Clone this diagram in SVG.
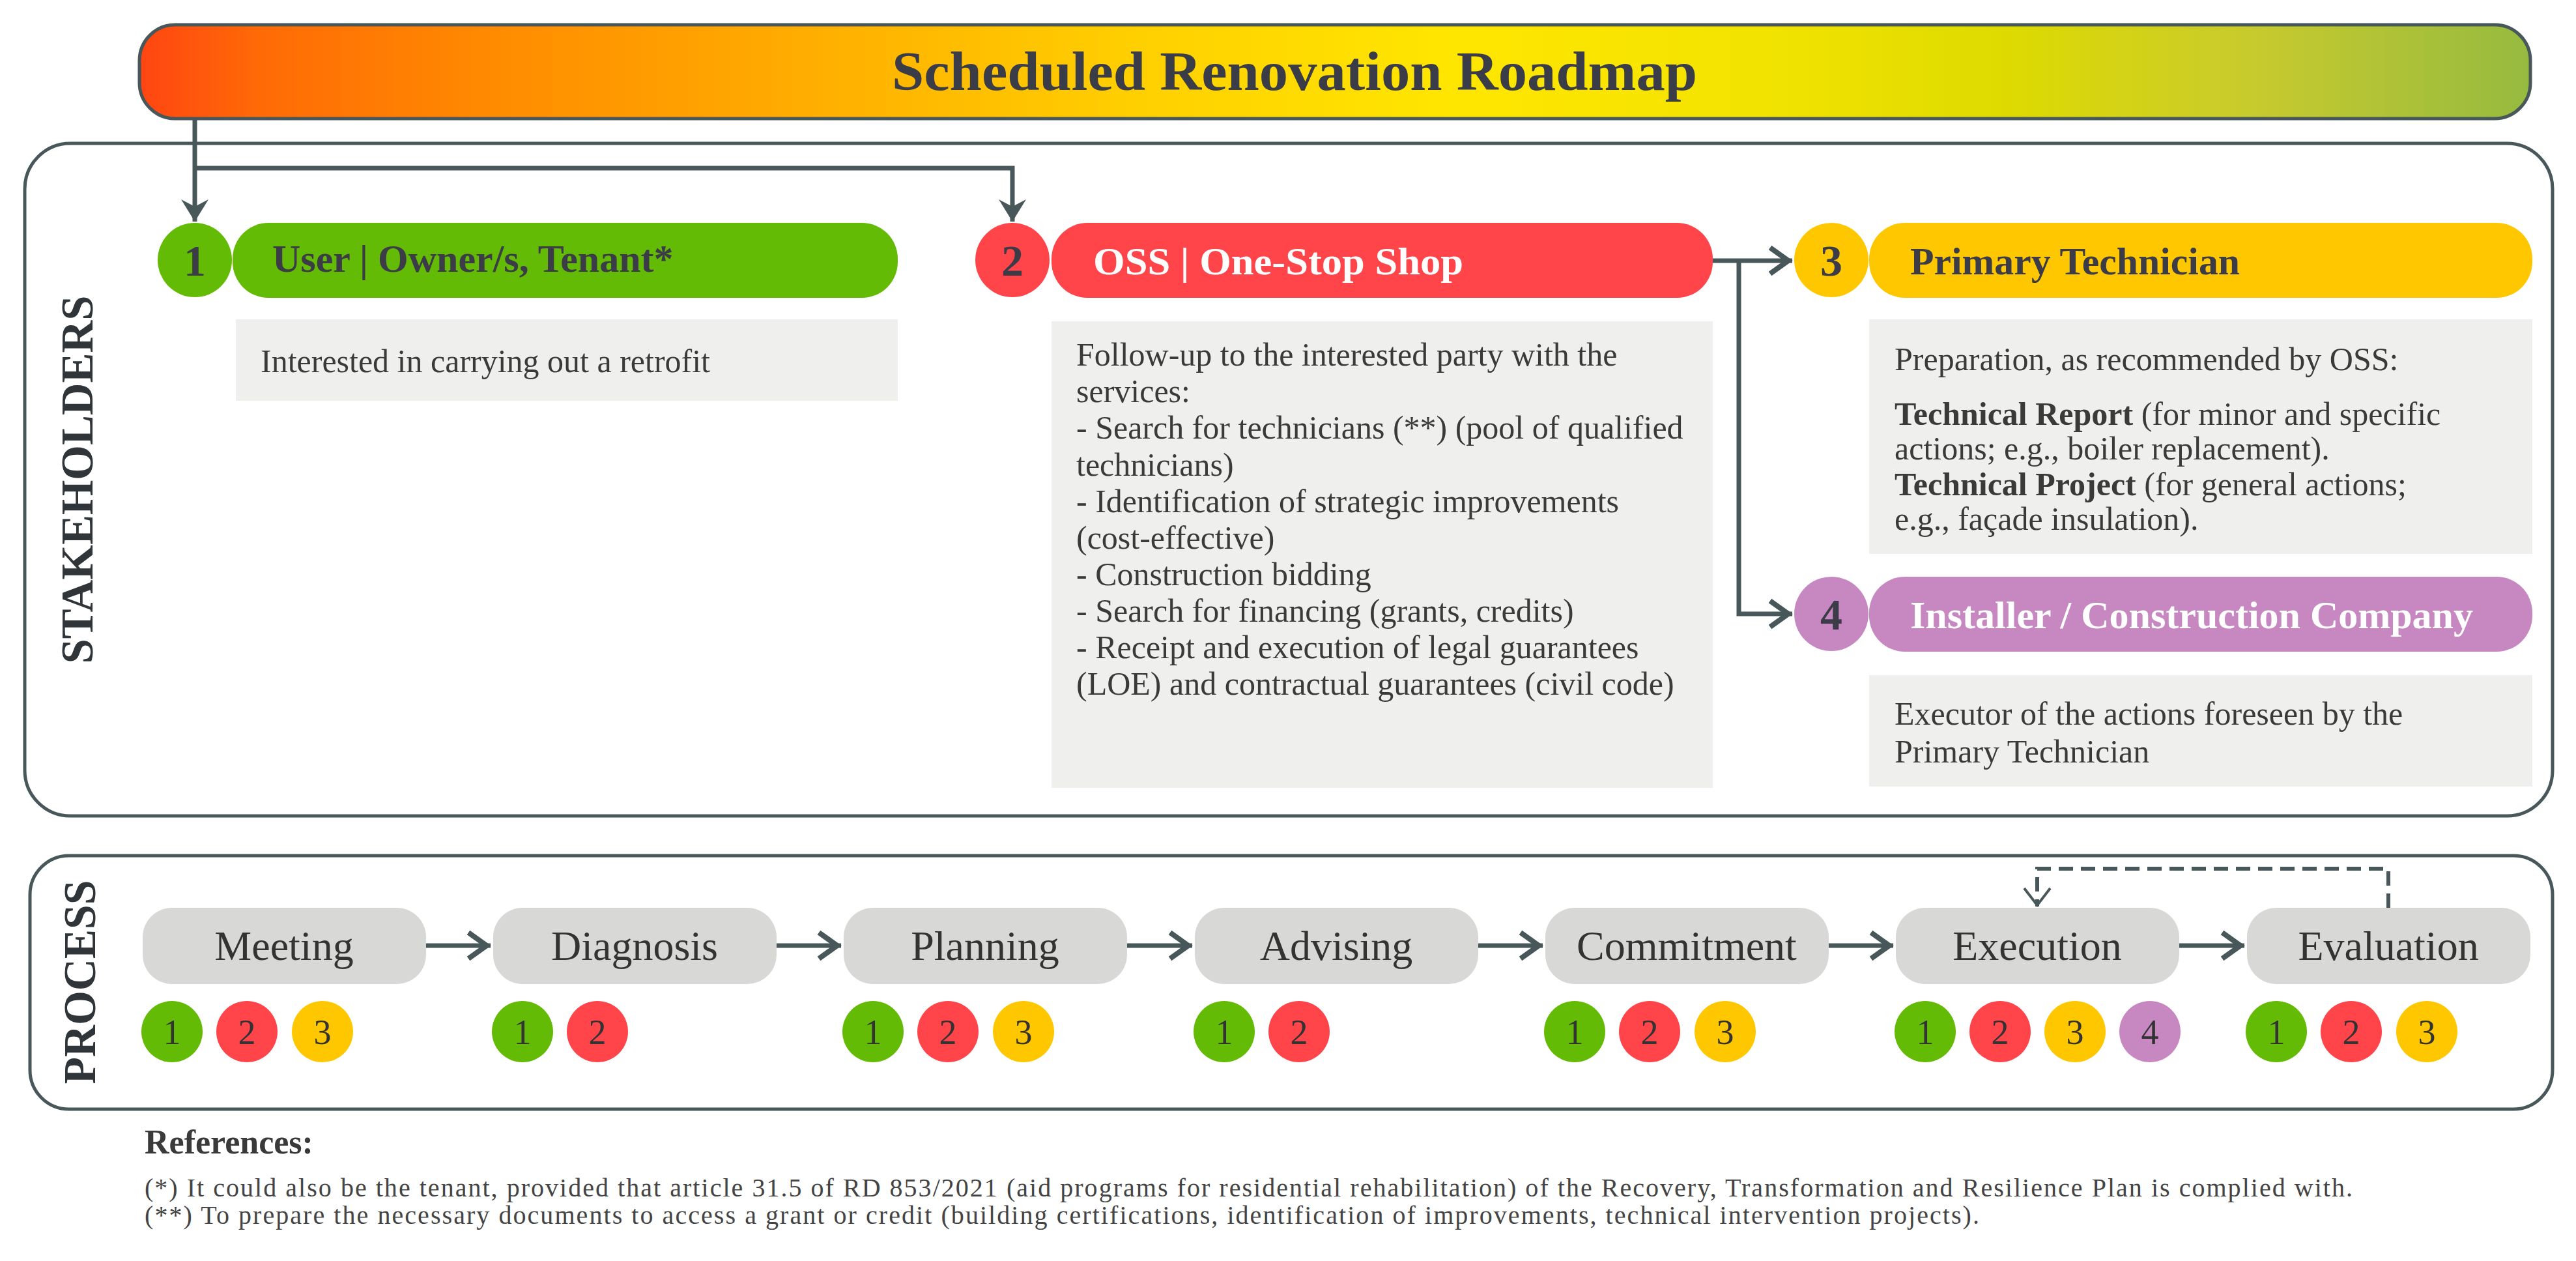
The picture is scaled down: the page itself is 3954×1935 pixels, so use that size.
<svg xmlns="http://www.w3.org/2000/svg" width="3954" height="1935" viewBox="0 0 3954 1935">
<defs>
<linearGradient id="titleGrad" x1="0" y1="0" x2="1" y2="0">
<stop offset="0" stop-color="#FF4512"/>
<stop offset="0.05" stop-color="#FF6A06"/>
<stop offset="0.15" stop-color="#FF8C00"/>
<stop offset="0.3" stop-color="#FFB300"/>
<stop offset="0.42" stop-color="#FFD000"/>
<stop offset="0.55" stop-color="#FFE600"/>
<stop offset="0.68" stop-color="#F2E300"/>
<stop offset="0.78" stop-color="#DEDA00"/>
<stop offset="0.88" stop-color="#C9CB2C"/>
<stop offset="1" stop-color="#96BA40"/>
</linearGradient>
<marker id="barb" markerUnits="userSpaceOnUse" markerWidth="40" markerHeight="46" refX="34" refY="23" orient="auto" overflow="visible">
<path d="M0,2 L34,23 L0,44 L11,23 z" fill="#485759"/>
</marker>
<marker id="chev" markerUnits="userSpaceOnUse" markerWidth="50" markerHeight="50" refX="40" refY="25" orient="auto" overflow="visible">
<path d="M6,5 L34,25 L6,45" fill="none" stroke="#485759" stroke-width="8"/>
</marker>
<marker id="vopen" markerUnits="userSpaceOnUse" markerWidth="40" markerHeight="44" refX="32" refY="22" orient="auto" overflow="visible">
<path d="M4,2 L30,22 L4,42" fill="none" stroke="#485759" stroke-width="4"/>
</marker>
<style>
.frame{fill:#fff;stroke:#485759;stroke-width:5}
.conn{fill:none;stroke:#485759;stroke-width:7}
.dash{fill:none;stroke:#485759;stroke-width:6;stroke-dasharray:22 12}
.serif{font-family:"Liberation Serif","Times New Roman",serif}
.title{font-family:"Liberation Serif",serif;font-weight:bold;font-size:84px;fill:#3A3D48}
.side{font-family:"Liberation Serif",serif;font-weight:bold;font-size:70px;fill:#2F3538;text-anchor:middle}
.hdr{font-family:"Liberation Serif",serif;font-weight:bold;font-size:60px;fill:#3B3C47}
.wt{fill:#fff}
.num{font-family:"Liberation Serif",serif;font-weight:bold;font-size:68px;text-anchor:middle;fill:#3B3C47}
.body{font-family:"Liberation Serif",serif;font-size:50px;fill:#3A3A3A}
.box{fill:#EFEFED}
.step{fill:#D8D8D6}
.steptxt{font-family:"Liberation Serif",serif;font-size:64px;text-anchor:middle;fill:#333}
.pnum{font-family:"Liberation Serif",serif;font-size:54px;text-anchor:middle;fill:#333}
.g{fill:#63BB05}
.r{fill:#FF444A}
.y{fill:#FFC700}
.p{fill:#C788C1}
.ref{font-family:"Liberation Serif",serif;font-size:40px;fill:#444}
</style>
</defs>
<rect width="3954" height="1935" fill="#fff"/>

<g id="title">
<rect x="214" y="38" width="3670" height="144" rx="55" ry="55" fill="url(#titleGrad)" stroke="#485759" stroke-width="5"/>
<text class="title" x="1369" y="138" textLength="1236" lengthAdjust="spacingAndGlyphs">Scheduled Renovation Roadmap</text>
</g>

<g id="stakeholders-frame">
<rect class="frame" x="38" y="220" width="3880" height="1032" rx="70" ry="70"/>
<text class="side" transform="translate(142,736) rotate(-90)" textLength="565" lengthAdjust="spacingAndGlyphs">STAKEHOLDERS</text>
</g>

<g id="process-frame">
<rect class="frame" x="46" y="1313" width="3872" height="389" rx="60" ry="60"/>
<text class="side" transform="translate(146,1507) rotate(-90)" textLength="313" lengthAdjust="spacingAndGlyphs">PROCESS</text>
</g>

<g id="connectors">
<path class="conn" d="M299,184 V340" marker-end="url(#barb)"/>
<path class="conn" d="M299,258 H1554 V340" marker-end="url(#barb)"/>
<path class="conn" d="M2629,400 H2751" marker-end="url(#chev)"/>
<path class="conn" d="M2669,400 V942 H2751" marker-end="url(#chev)"/>
<path class="conn" d="M654,1451 H753" marker-end="url(#chev)"/>
<path class="conn" d="M1192,1451 H1291" marker-end="url(#chev)"/>
<path class="conn" d="M1730,1451 H1830" marker-end="url(#chev)"/>
<path class="conn" d="M2269,1451 H2368" marker-end="url(#chev)"/>
<path class="conn" d="M2807,1451 H2906" marker-end="url(#chev)"/>
<path class="conn" d="M3345,1451 H3445" marker-end="url(#chev)"/>
<path class="dash" d="M3666,1393 V1333 H3127 V1391" marker-end="url(#vopen)"/>
</g>

<g id="node-1">
<rect class="g" x="357" y="342" width="1021" height="115" rx="55" ry="55"/>
<circle class="g" cx="299" cy="399" r="57"/>
<text class="num" x="299" y="423">1</text>
<text class="hdr" x="418" y="417">User | Owner/s, Tenant*</text>
<rect class="box" x="362" y="490" width="1016" height="125"/>
<text class="body" x="400" y="571">Interested in carrying out a retrofit</text>
</g>

<g id="node-2">
<rect class="r" x="1614" y="342" width="1015" height="115" rx="55" ry="55"/>
<circle class="r" cx="1554" cy="399" r="57"/>
<text class="num wt" x="1554" y="423">2</text>
<text class="hdr wt" x="1678" y="421" textLength="568" lengthAdjust="spacingAndGlyphs">OSS | One-Stop Shop</text>
<rect class="box" x="1614" y="493" width="1015" height="716"/>
<text class="body">
<tspan x="1652" y="561">Follow-up to the interested party with the</tspan>
<tspan x="1652" y="617">services:</tspan>
<tspan x="1652" y="673">- Search for technicians (**) (pool of qualified</tspan>
<tspan x="1652" y="730">technicians)</tspan>
<tspan x="1652" y="786">- Identification of strategic improvements</tspan>
<tspan x="1652" y="842">(cost-effective)</tspan>
<tspan x="1652" y="898">- Construction bidding</tspan>
<tspan x="1652" y="954">- Search for financing (grants, credits)</tspan>
<tspan x="1652" y="1010">- Receipt and execution of legal guarantees</tspan>
<tspan x="1652" y="1066">(LOE) and contractual guarantees (civil code)</tspan>
</text>
</g>

<g id="node-3">
<rect class="y" x="2869" y="342" width="1018" height="115" rx="55" ry="55"/>
<circle class="y" cx="2811" cy="399" r="57"/>
<text class="num" x="2811" y="423">3</text>
<text class="hdr" x="2932" y="421" textLength="506" lengthAdjust="spacingAndGlyphs">Primary Technician</text>
<rect class="box" x="2869" y="490" width="1018" height="360"/>
<text class="body">
<tspan x="2908" y="568">Preparation, as recommended by OSS:</tspan>
<tspan x="2908" y="652" font-weight="bold">Technical Report</tspan><tspan> (for minor and specific</tspan>
<tspan x="2908" y="705">actions; e.g., boiler replacement).</tspan>
<tspan x="2908" y="760" font-weight="bold">Technical Project</tspan><tspan> (for general actions;</tspan>
<tspan x="2908" y="813">e.g., façade insulation).</tspan>
</text>
</g>

<g id="node-4">
<rect class="p" x="2869" y="885" width="1018" height="115" rx="55" ry="55"/>
<circle class="p" cx="2811" cy="942" r="57"/>
<text class="num wt" x="2811" y="966">4</text>
<text class="hdr wt" x="2932" y="964" textLength="864" lengthAdjust="spacingAndGlyphs">Installer / Construction Company</text>
<rect class="box" x="2869" y="1036" width="1018" height="171"/>
<text class="body">
<tspan x="2908" y="1112">Executor of the actions foreseen by the</tspan>
<tspan x="2908" y="1170">Primary Technician</tspan>
</text>
</g>

<g id="step-meeting">
<rect class="step" x="219" y="1393" width="435" height="117" rx="45" ry="45"/>
<text class="steptxt" x="436" y="1473">Meeting</text>
<circle class="g" cx="264" cy="1583" r="47"/><text class="pnum" x="264" y="1602">1</text>
<circle class="r" cx="379" cy="1583" r="47"/><text class="pnum wt" x="379" y="1602">2</text>
<circle class="y" cx="495" cy="1583" r="47"/><text class="pnum" x="495" y="1602">3</text>
</g>

<g id="step-diagnosis">
<rect class="step" x="757" y="1393" width="435" height="117" rx="45" ry="45"/>
<text class="steptxt" x="974" y="1473">Diagnosis</text>
<circle class="g" cx="802" cy="1583" r="47"/><text class="pnum" x="802" y="1602">1</text>
<circle class="r" cx="917" cy="1583" r="47"/><text class="pnum wt" x="917" y="1602">2</text>
</g>

<g id="step-planning">
<rect class="step" x="1295" y="1393" width="435" height="117" rx="45" ry="45"/>
<text class="steptxt" x="1512" y="1473">Planning</text>
<circle class="g" cx="1340" cy="1583" r="47"/><text class="pnum" x="1340" y="1602">1</text>
<circle class="r" cx="1455" cy="1583" r="47"/><text class="pnum wt" x="1455" y="1602">2</text>
<circle class="y" cx="1571" cy="1583" r="47"/><text class="pnum" x="1571" y="1602">3</text>
</g>

<g id="step-advising">
<rect class="step" x="1834" y="1393" width="435" height="117" rx="45" ry="45"/>
<text class="steptxt" x="2051" y="1473">Advising</text>
<circle class="g" cx="1879" cy="1583" r="47"/><text class="pnum" x="1879" y="1602">1</text>
<circle class="r" cx="1994" cy="1583" r="47"/><text class="pnum wt" x="1994" y="1602">2</text>
</g>

<g id="step-commitment">
<rect class="step" x="2372" y="1393" width="435" height="117" rx="45" ry="45"/>
<text class="steptxt" x="2589" y="1473">Commitment</text>
<circle class="g" cx="2417" cy="1583" r="47"/><text class="pnum" x="2417" y="1602">1</text>
<circle class="r" cx="2532" cy="1583" r="47"/><text class="pnum wt" x="2532" y="1602">2</text>
<circle class="y" cx="2648" cy="1583" r="47"/><text class="pnum" x="2648" y="1602">3</text>
</g>

<g id="step-execution">
<rect class="step" x="2910" y="1393" width="435" height="117" rx="45" ry="45"/>
<text class="steptxt" x="3127" y="1473">Execution</text>
<circle class="g" cx="2955" cy="1583" r="47"/><text class="pnum" x="2955" y="1602">1</text>
<circle class="r" cx="3070" cy="1583" r="47"/><text class="pnum wt" x="3070" y="1602">2</text>
<circle class="y" cx="3185" cy="1583" r="47"/><text class="pnum" x="3185" y="1602">3</text>
<circle class="p" cx="3300" cy="1583" r="47"/><text class="pnum wt" x="3300" y="1602">4</text>
</g>

<g id="step-evaluation">
<rect class="step" x="3449" y="1393" width="435" height="117" rx="45" ry="45"/>
<text class="steptxt" x="3666" y="1473">Evaluation</text>
<circle class="g" cx="3494" cy="1583" r="47"/><text class="pnum" x="3494" y="1602">1</text>
<circle class="r" cx="3609" cy="1583" r="47"/><text class="pnum wt" x="3609" y="1602">2</text>
<circle class="y" cx="3725" cy="1583" r="47"/><text class="pnum" x="3725" y="1602">3</text>
</g>

<g id="references">
<text class="serif" x="222" y="1770" font-size="52" font-weight="bold" fill="#3A3A3A">References:</text>
<text class="ref" x="222" y="1836" textLength="3389" lengthAdjust="spacing">(*) It could also be the tenant, provided that article 31.5 of RD 853/2021 (aid programs for residential rehabilitation) of the Recovery, Transformation and Resilience Plan is complied with.</text>
<text class="ref" x="222" y="1878" textLength="2816" lengthAdjust="spacing">(**) To prepare the necessary documents to access a grant or credit (building certifications, identification of improvements, technical intervention projects).</text>
</g>
</svg>
